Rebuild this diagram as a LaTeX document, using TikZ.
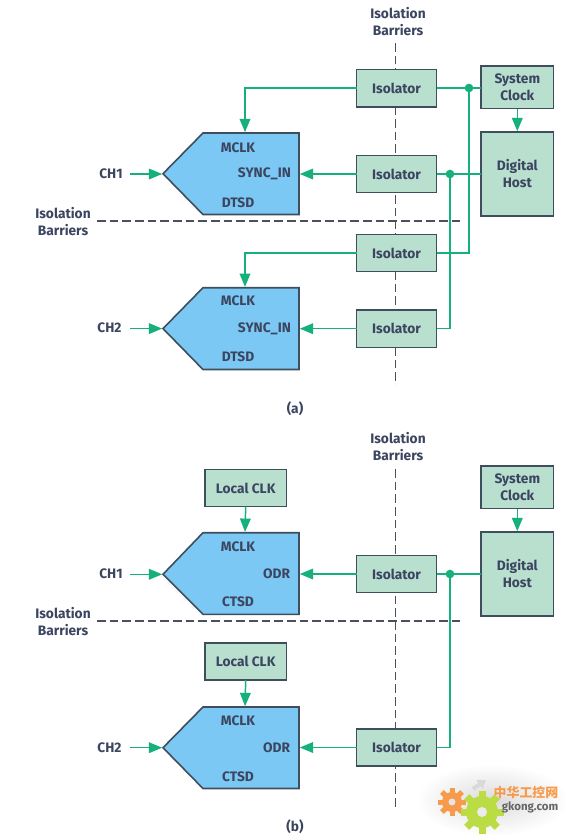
\documentclass[tikz,border=0pt]{standalone}
\usepackage{fontspec}
\setmainfont{Fira Sans}
\newfontfamily\cjkwm{Noto Sans CJK SC}
\usetikzlibrary{arrows.meta}
\definecolor{wire}{HTML}{16B07F}
\definecolor{boxfill}{HTML}{B9DFCF}
\definecolor{edge}{HTML}{3E4E5C}
\definecolor{adcblue}{HTML}{7CC8F4}
\definecolor{ink}{HTML}{3B4560}
\definecolor{barrier}{HTML}{4A505C}
\definecolor{gearorange}{HTML}{F79A4B}
\definecolor{gearlime}{HTML}{BBDC45}
\tikzset{
  x=0.75pt,y=-0.75pt,
  every node/.style={inner sep=0pt,outer sep=0pt,text=ink,font=\fontsize{10.3}{12.75}\selectfont\bfseries,align=center},
  isobox/.style={draw=edge,fill=boxfill,line width=1.2pt,minimum width=60pt,minimum height=28pt},
  clkbox/.style={draw=edge,fill=boxfill,line width=1.2pt,minimum width=61pt,minimum height=28pt},
  sysbox/.style={draw=edge,fill=boxfill,line width=1.2pt,minimum width=54.4pt,minimum height=31.9pt},
  hostbox/.style={draw=edge,fill=boxfill,line width=1.2pt,minimum width=54.4pt,minimum height=63pt},
  adc/.style={draw=edge,fill=adcblue,line width=1.2pt,line join=miter},
  wireline/.style={draw=wire,line width=1.1pt},
  sig/.style={wireline,-{Triangle[length=10pt,width=8pt]},shorten >=0.6pt},
  dot/.style={circle,fill=wire,minimum size=6.5pt},
  barrierline/.style={draw=barrier,line width=1.1pt,dash pattern=on 6.5pt off 3pt},
  lbl/.style={anchor=center},
  lblr/.style={anchor=east},
}
\begin{document}
\begin{tikzpicture}
\useasboundingbox[fill=white] (0,0) rectangle (573,839);

% barriers
\coordinate (vaT) at (395.5,43); \coordinate (vaB) at (395.5,385);
\coordinate (haL) at (97,221);   \coordinate (haR) at (463,221);
\coordinate (vbT) at (395.5,469); \coordinate (vbB) at (395.5,807);
\coordinate (hbL) at (97,621);   \coordinate (hbR) at (463,621);
\draw[barrierline] (vaT) -- (vaB);
\draw[barrierline] (haL) -- (haR);
\draw[barrierline] (vbT) -- (vbB);
\draw[barrierline] (hbL) -- (hbR);

% (a) boxes
\node[isobox] (isoA) at (396.5,88.2) {Isolator};
\node[isobox] (isoB) at (396.5,174) {Isolator};
\node[isobox] (isoC) at (396.5,253) {Isolator};
\node[isobox] (isoD) at (396.5,328.7) {Isolator};
\node[sysbox] (sysA) at (517.3,87.3) {System\\Clock};
\node[hostbox] (hostA) at (517.3,174) {Digital\\Host};

% ADC outlines
\draw[adc] (203,133) -- (299,133) -- (299,214.5) -- (203,214.5) -- (163,173.7) -- cycle;
\draw[adc] (203,287.7) -- (299,287.7) -- (299,369.5) -- (203,369.5) -- (163,328.6) -- cycle;
\draw[adc] (203,532.7) -- (299,532.7) -- (299,614.3) -- (203,614.3) -- (163,574.3) -- cycle;
\draw[adc] (203,707) -- (299,707) -- (299,788.5) -- (203,788.5) -- (163,747.7) -- cycle;
\coordinate (aM) at (245,133);   \coordinate (aS) at (299,174);   \coordinate (aI) at (163,174);
\coordinate (bM) at (245,287.7); \coordinate (bS) at (299,328.7); \coordinate (bI) at (163,328.6);
\coordinate (cM) at (245,532.7); \coordinate (cS) at (299,574);   \coordinate (cI) at (163,574.3);
\coordinate (dM) at (245,707);   \coordinate (dS) at (299,747.5); \coordinate (dI) at (163,747.7);

% ADC labels
\node[lbl] (a1) at (238,148) {MCLK};
\node[lblr] (a2) at (291,174) {SYNC\_IN};
\node[lbl] (a3) at (238,202.5) {DTSD};
\node[lbl] (b1) at (238,301) {MCLK};
\node[lblr] (b2) at (291,329) {SYNC\_IN};
\node[lbl] (b3) at (238,357) {DTSD};
\node[lbl] (c1) at (238,547) {MCLK};
\node[lblr] (c2) at (290,574) {ODR};
\node[lbl] (c3) at (238,602) {CTSD};
\node[lbl] (d1) at (238,721) {MCLK};
\node[lblr] (d2) at (290,748) {ODR};
\node[lbl] (d3) at (238,777) {CTSD};

% channel labels
\node[lbl] (ch1a) at (111,174) {CH1};
\node[lbl] (ch2a) at (109.5,328) {CH2};
\node[lbl] (ch1b) at (111,574) {CH1};
\node[lbl] (ch2b) at (109.5,747.5) {CH2};
\coordinate (ch1aS) at (130,174);
\coordinate (ch2aS) at (130,328.6);
\coordinate (ch1bS) at (130,574.3);
\coordinate (ch2bS) at (130,747.7);
\draw[sig] (ch1aS) -- (aI);
\draw[sig] (ch2aS) -- (bI);
\draw[sig] (ch1bS) -- (cI);
\draw[sig] (ch2bS) -- (dI);

% (a) wiring
\node[dot] (dotA) at (469,88) {};
\node[dot] (dotB) at (450,174) {};
\draw[wireline] (isoA.east |- dotA) -- (dotA) -- (sysA.west |- dotA);
\draw[wireline] (isoB.east) -- (dotB) -- (hostA.west |- dotB);
\draw[wireline] (dotA) -- (dotA |- isoC.east) -- (isoC.east);
\draw[wireline] (dotB) -- (dotB |- isoD.east) -- (isoD.east);
\draw[sig] (isoA.west) -| (aM);
\draw[sig] (isoC.west) -| (bM);
\draw[sig] (isoB.west) -- (aS);
\draw[sig] (isoD.west) -- (bS);
\draw[sig] (sysA.south) -- (hostA.north);

% (b) boxes
\node[clkbox] (clkC) at (245.7,488) {Local CLK};
\node[clkbox] (clkD) at (245.7,661.5) {Local CLK};
\node[isobox] (isoE) at (396.5,574) {Isolator};
\node[isobox] (isoF) at (396.5,747.5) {Isolator};
\node[sysbox] (sysB) at (517.3,487.3) {System\\Clock};
\node[hostbox] (hostB) at (517.3,574) {Digital\\Host};
\node[dot] (dotC) at (450,574) {};
\draw[wireline] (isoE.east) -- (dotC) -- (hostB.west |- dotC);
\draw[wireline] (dotC) -- (dotC |- isoF.east) -- (isoF.east);
\draw[sig] (isoE.west) -- (cS);
\draw[sig] (isoF.west) -- (dS);
\draw[sig] (clkC.south) -- (cM);
\draw[sig] (clkD.south) -- (dM);
\draw[sig] (sysB.south) -- (hostB.north);

% barrier labels and captions
\node[lbl] (barT1) at (398,22) {Isolation\\Barriers};
\node[lbl] (barL1) at (63,222) {Isolation\\Barriers};
\node[lbl] (barT2) at (398,447) {Isolation\\Barriers};
\node[lbl] (barL2) at (63,622) {Isolation\\Barriers};
\node[lbl] (capA) at (295,408.5) {(a)};
\node[lbl] (capB) at (295,827) {(b)};

% watermark
\shade[inner color=black!14,outer color=white] (492,800) ellipse [x radius=76,y radius=36];
\foreach \a in {0,45,...,315}{
  \fill[gearorange,rotate around={\a:(452,802)}] (449.5,788) rectangle (454.5,816);
}
\fill[gearorange] (452,802) circle [radius=10];
\fill[white!90!black] (452,802) circle [radius=3.5];
\foreach \a in {0,45,...,315}{
  \fill[gearlime,rotate around={\a:(482,812)}] (478.5,790.5) rectangle (485.5,833.5);
}
\fill[gearlime] (482,812) circle [radius=16];
\fill[white!92!black] (482,812) circle [radius=5];
\draw[black!15,line width=3pt,-{Triangle[length=6pt,width=8pt]}] (473,789) -- (486,780);
\node[lbl,text=gearorange,font=\fontsize{9.7}{11}\cjkwm\bfseries] (wm1) at (526,793) {中华工控网};
\node[lbl,text=black!60,font=\fontsize{8.6}{9}\bfseries] (wm2) at (530,807.5) {gkong.com};
\end{tikzpicture}
\end{document}
